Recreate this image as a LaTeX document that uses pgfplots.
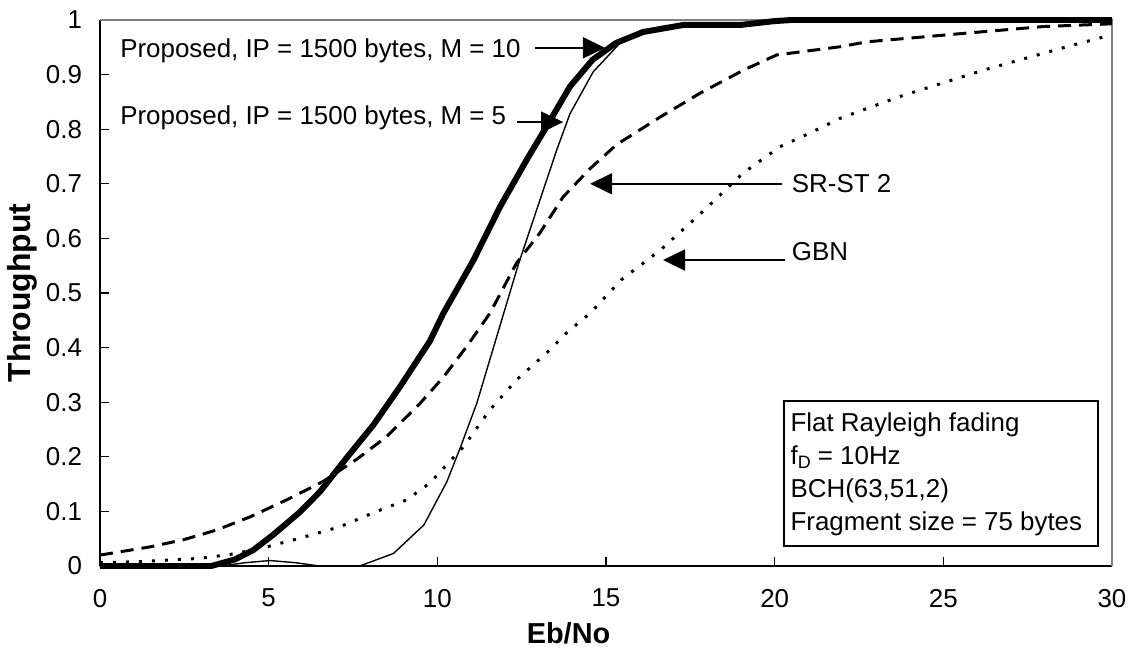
\documentclass[border=0pt]{standalone}
\usepackage{fontspec}
\setmainfont{Liberation Sans}
\usepackage{pgfplots}
\pgfplotsset{compat=1.18}
\usetikzlibrary{arrows.meta}
\begin{document}
\begin{tikzpicture}
\begin{axis}[
  name=ax,
  scale only axis,
  width=506bp, height=273bp,
  xmin=0, xmax=30, ymin=0, ymax=1,
  axis x line*=bottom, axis y line*=left,
  axis line style={black, line width=0.8pt},
  xtick={0,5,...,30},
  ytick={0,0.1,...,1.0},
  tick style={black, line width=0.6pt, major tick length=4.5bp},
  tick align=inside,
  /pgf/number format/assume math mode=true,
  ticklabel style={font=\fontsize{13}{15}\selectfont},
  yticklabel style={xshift=-5.5bp},
  xticklabel style={yshift=-8bp},
  clip=false,
  every axis x label/.style={at={(axis description cs:0.463,-0.123)}, anchor=center},
  every axis y label/.style={at={(axis description cs:-0.077,0.5)}, rotate=90, anchor=center},
  xlabel={\fontsize{14.5}{16}\selectfont\bfseries Eb/No},
  ylabel={\fontsize{16}{18}\selectfont\bfseries Throughput},
]
\draw[gray, line width=0.8pt] (rel axis cs:0,1) -- (rel axis cs:1,1) -- (rel axis cs:1,0);

% Proposed, M = 10 (thick solid)
\addplot[black, line width=3pt, line join=round] coordinates {
(0,0) (3.3,0) (4,0.012) (4.54,0.029) (5.13,0.057) (5.93,0.099) (6.52,0.136)
(7.31,0.198) (8.1,0.258) (8.89,0.328) (9.78,0.412) (10.18,0.463) (11.07,0.56)
(11.86,0.658) (12.65,0.744) (13.24,0.805) (13.93,0.878) (14.6,0.927) (15.3,0.958)
(16.1,0.978) (17.3,0.991) (19,0.991) (20,0.998) (20.5,1) (30,1)};

% Proposed, M = 5 (thin solid)
\addplot[black, line width=0.7pt, line join=round] coordinates {
(0,0) (3.6,0) (4.3,0.006) (5.04,0.01) (5.8,0.006) (6.5,0) (7.7,0)
(8.7,0.023) (9.6,0.075) (10.28,0.154) (10.67,0.215) (11.17,0.298) (11.76,0.42)
(12.4,0.552) (13.04,0.67) (13.54,0.762) (13.93,0.828) (14.62,0.905) (15.42,0.958)
(16.2,0.98) (17,0.99) (19,0.99) (20.7,1) (30,1)};

% SR-ST 2 (dashed)
\addplot[black, line width=1.5pt, dash pattern=on 6.5bp off 4bp] coordinates {
(0,0.02) (1.48,0.035) (2.47,0.048) (3.46,0.066) (4.45,0.09) (5.53,0.121)
(6.62,0.155) (7.6,0.195) (8.5,0.237) (9.49,0.298) (10.18,0.346) (10.87,0.402)
(11.56,0.463) (12.35,0.555) (13.04,0.61) (13.73,0.676) (14.53,0.728) (15.32,0.772)
(16.6,0.822) (17.79,0.866) (19.07,0.908) (20.06,0.936) (21.94,0.951) (22.73,0.96)
(25.7,0.976) (27.97,0.988) (30,0.993)};

% GBN (dotted)
\addplot[black, line width=1.5pt, dash pattern=on 1.5bp off 5bp] coordinates {
(0,0.006) (1.2,0.008) (2.96,0.014) (3.95,0.022) (4.94,0.035) (5.93,0.051)
(7.12,0.072) (8.2,0.1) (9.09,0.121) (9.78,0.152) (10.77,0.218) (11.56,0.286)
(12.35,0.341) (13.34,0.396) (13.83,0.427) (14.53,0.463) (15.45,0.524) (16.6,0.578)
(17.8,0.645) (19.07,0.72) (20.16,0.768) (21.05,0.793) (21.94,0.82) (23.72,0.86)
(26.18,0.908) (28.66,0.951) (30,0.973)};

% annotations
\begin{scope}[font=\fontsize{13}{15}\selectfont]
\node[anchor=west, inner sep=0pt] at (axis cs:0.59,0.944) {Proposed, IP = 1500 bytes, M = 10};
\draw[line width=0.9pt, -{Triangle[length=11bp,width=10.5bp]}] (axis cs:12.9,0.949) -- (axis cs:14.97,0.949);
\node[anchor=west, inner sep=0pt] at (axis cs:0.59,0.82) {Proposed, IP = 1500 bytes, M = 5};
\draw[line width=0.9pt, -{Triangle[length=11bp,width=10.5bp]}] (axis cs:12.36,0.813) -- (axis cs:13.73,0.813);
\node[anchor=west, inner sep=0pt] at (axis cs:20.5,0.701) {SR-ST 2};
\draw[line width=0.9pt, -{Triangle[length=11bp,width=10.5bp]}] (axis cs:20.22,0.70) -- (axis cs:14.53,0.70);
\node[anchor=west, inner sep=0pt] at (axis cs:20.5,0.576) {GBN};
\draw[line width=0.9pt, -{Triangle[length=11bp,width=10.5bp]}] (axis cs:20.31,0.5604) -- (axis cs:16.69,0.5604);
\draw[black, line width=0.8pt, fill=white] (axis cs:20.28,0.0366) rectangle (axis cs:29.59,0.302);
\node[anchor=base west, inner sep=0pt] at (axis cs:20.46,0.2463) {Flat Rayleigh fading};
\node[anchor=base west, inner sep=0pt] at (axis cs:20.46,0.1859) {f\raisebox{-0.3ex}{\fontsize{9}{10}\selectfont D} = 10Hz};
\node[anchor=base west, inner sep=0pt] at (axis cs:20.46,0.1255) {BCH(63,51,2)};
\node[anchor=base west, inner sep=0pt] at (axis cs:20.46,0.0650) {Fragment size = 75 bytes};
\end{scope}
\end{axis}
\pgfresetboundingbox
\path[use as bounding box] ([xshift=-50bp,yshift=-44.5bp]ax.south west) rectangle ([xshift=11bp,yshift=10bp]ax.north east);
\end{tikzpicture}
\end{document}
